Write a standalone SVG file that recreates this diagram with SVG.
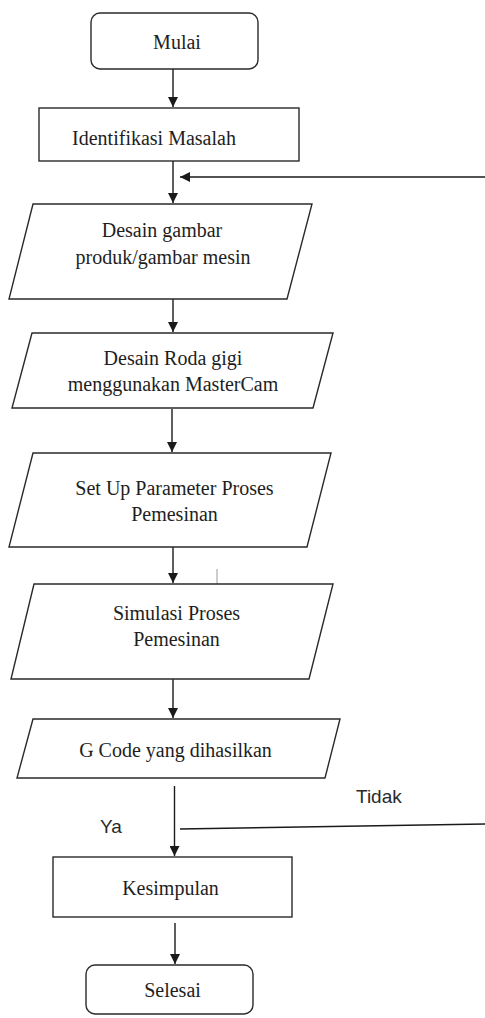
<svg xmlns="http://www.w3.org/2000/svg" width="485" height="1018" viewBox="0 0 485 1018">
  <defs>
    <marker id="arrow" markerWidth="10" markerHeight="10" refX="10" refY="5" orient="auto" markerUnits="userSpaceOnUse">
      <path d="M0,0 L10,5 L0,10 Z" fill="#1a1a1a"/>
    </marker>
    <style>
      .shape { fill: #ffffff; stroke: #2a2a2a; stroke-width: 1.4; }
      .label { font-family: "Liberation Serif", "Times New Roman", serif; font-size: 20px; fill: #1e1e1e; text-anchor: middle; }
      .note { font-family: "Liberation Sans", Arial, sans-serif; font-size: 19px; fill: #2a2a2a; }
      .link { fill: none; stroke: #1a1a1a; stroke-width: 1.4; }
      .arrowed { marker-end: url(#arrow); }
    </style>
  </defs>
  <rect width="485" height="1018" fill="#ffffff"/>

  <!-- connectors -->
  <g id="connectors">
    <line class="link arrowed" x1="173" y1="69" x2="173" y2="107"/>
    <line class="link arrowed" x1="173" y1="161" x2="173" y2="203"/>
    <line class="link arrowed" x1="485" y1="177" x2="180" y2="177"/>
    <line class="link arrowed" x1="173" y1="299" x2="173" y2="332"/>
    <line class="link arrowed" x1="172" y1="409" x2="172" y2="452"/>
    <line class="link arrowed" x1="173" y1="547" x2="173" y2="583"/>
    <line x1="217" y1="569" x2="217" y2="593" stroke="#9a9a9a" stroke-width="1"/>
    <line class="link arrowed" x1="173" y1="679" x2="173" y2="718"/>
    <line class="link arrowed" x1="174.5" y1="786" x2="174.5" y2="856"/>
    <line class="link" x1="180" y1="829" x2="485" y2="824"/>
    <line class="link arrowed" x1="175" y1="923" x2="175" y2="964"/>
    <text class="note" x="100" y="833">Ya</text>
    <text class="note" x="356" y="803">Tidak</text>
  </g>

  <g id="mulai">
    <rect class="shape" x="91" y="13" width="167" height="56" rx="9"/>
    <text class="label" x="177" y="49">Mulai</text>
  </g>

  <g id="identifikasi">
    <rect class="shape" x="39" y="108" width="260" height="53"/>
    <text class="label" x="154" y="145">Identifikasi Masalah</text>
  </g>

  <g id="desain-gambar">
    <polygon class="shape" points="33,204 312,204 287,299 9,299"/>
    <text class="label" x="162" y="237">Desain gambar</text>
    <text class="label" x="163" y="264">produk/gambar mesin</text>
  </g>

  <g id="desain-roda">
    <polygon class="shape" points="32,333 333,333 313,408 12,408"/>
    <text class="label" x="173" y="365">Desain Roda gigi</text>
    <text class="label" x="173" y="391">menggunakan MasterCam</text>
  </g>

  <g id="setup-parameter">
    <polygon class="shape" points="33,453 331,453 307,547 9,547"/>
    <text class="label" x="174.5" y="495">Set Up Parameter Proses</text>
    <text class="label" x="174.5" y="521">Pemesinan</text>
  </g>

  <g id="simulasi">
    <polygon class="shape" points="34,584 333,584 309,679 11,679"/>
    <text class="label" x="176.5" y="620">Simulasi Proses</text>
    <text class="label" x="176.5" y="646">Pemesinan</text>
  </g>

  <g id="gcode">
    <polygon class="shape" points="33,719 340,719 325,778 17,778"/>
    <text class="label" x="175.5" y="757">G Code yang dihasilkan</text>
  </g>

  <g id="kesimpulan">
    <rect class="shape" x="53" y="857" width="239" height="60"/>
    <text class="label" x="170.5" y="895">Kesimpulan</text>
  </g>

  <g id="selesai">
    <rect class="shape" x="86" y="965" width="167" height="49" rx="9"/>
    <text class="label" x="172.5" y="997">Selesai</text>
  </g>
</svg>
